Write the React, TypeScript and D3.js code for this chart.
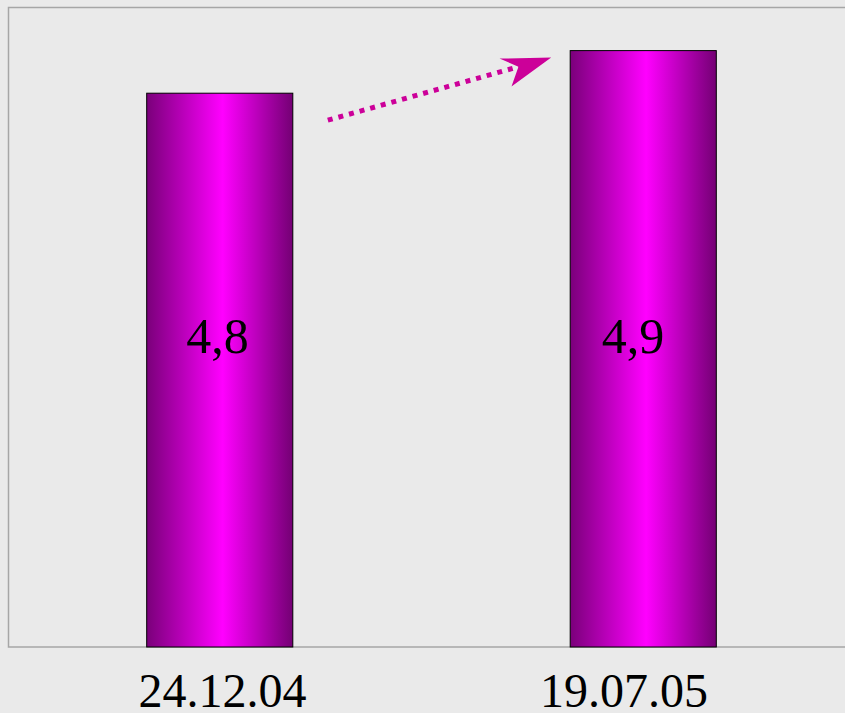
import { useEffect, useRef } from 'react'
import * as d3 from 'd3'

const categories = ['24.12.04', '19.07.05']
const values = [4.8, 4.9]
const valueLabels = ['4,8', '4,9']
const yDomain = [3.5, 5.0]

export default function App() {
  const svgRef = useRef<SVGSVGElement>(null)

  useEffect(() => {
    if (!svgRef.current) return
    document.body.style.margin = '0'

    const width = 845
    const height = 713
    const plot = { left: 8, top: 8, right: 855, bottom: 647 }
    const font = '"Liberation Serif", "Times New Roman", serif'

    const svg = d3.select(svgRef.current)
    svg.selectAll('*').remove()
    svg.attr('width', width).attr('height', height)

    svg.append('rect')
      .attr('width', width)
      .attr('height', height)
      .attr('fill', '#eaeaea')

    // Bar gradient: dark purple edges, bright magenta center
    const defs = svg.append('defs')
    const grad = defs.append('linearGradient')
      .attr('id', 'bar-gradient')
      .attr('x1', '0%').attr('y1', '0%')
      .attr('x2', '100%').attr('y2', '0%')
    grad.append('stop').attr('offset', '0%').attr('stop-color', '#7a007a')
    grad.append('stop').attr('offset', '52%').attr('stop-color', '#ff00ff')
    grad.append('stop').attr('offset', '100%').attr('stop-color', '#740074')

    // Plot frame
    svg.append('rect')
      .attr('x', plot.left + 0.5)
      .attr('y', plot.top - 0.5)
      .attr('width', plot.right - plot.left)
      .attr('height', plot.bottom - plot.top + 0.5)
      .attr('fill', '#eaeaea')
      .attr('stroke', '#a6a6a6')
      .attr('stroke-width', 1.5)

    const x = d3.scaleBand<string>()
      .domain(categories)
      .range([plot.left, plot.right])
    const barWidth = x.bandwidth() * 0.345

    // label positions in the original are not exactly on the bar centers
    const xCatLabel = d3.scalePoint<string>()
      .domain(categories)
      .range([21.75, 824.75])
      .padding(0.5)
    const xValLabel = d3.scalePoint<string>()
      .domain(categories)
      .range([9.75, 840.75])
      .padding(0.5)

    const y = d3.scaleLinear()
      .domain(yDomain)
      .range([plot.bottom, plot.top])

    const g = svg.append('g')

    categories.forEach((c, i) => {
      const cx = (x(c) ?? 0) + x.bandwidth() / 2
      g.append('rect')
        .attr('x', cx - barWidth / 2)
        .attr('y', y(values[i]))
        .attr('width', barWidth)
        .attr('height', y(yDomain[0]) - y(values[i]))
        .attr('fill', 'url(#bar-gradient)')
        .attr('stroke', '#000')
        .attr('stroke-width', 1)

      g.append('text')
        .attr('x', xValLabel(c) ?? cx)
        .attr('y', 353)
        .attr('text-anchor', 'middle')
        .attr('font-family', font)
        .attr('font-size', 50)
        .attr('fill', '#000')
        .text(valueLabels[i])

      g.append('text')
        .attr('x', xCatLabel(c) ?? cx)
        .attr('y', 707)
        .attr('text-anchor', 'middle')
        .attr('font-family', font)
        .attr('font-size', 48)
        .attr('fill', '#000')
        .text(c)
    })

    // Dotted trend arrow between the bars
    const c0 = (x(categories[0]) ?? 0) + x.bandwidth() / 2
    const c1 = (x(categories[1]) ?? 0) + x.bandwidth() / 2
    const start: [number, number] = [c0 + barWidth / 2 + 35, y(values[0]) + 27]
    const tip: [number, number] = [c1 - barWidth / 2 - 19, y(values[1]) + 7]
    const angle = Math.atan2(tip[1] - start[1], tip[0] - start[0])
    const headLen = 33
    const notch: [number, number] = [
      tip[0] - headLen * Math.cos(angle),
      tip[1] - headLen * Math.sin(angle),
    ]

    g.append('line')
      .attr('x1', start[0])
      .attr('y1', start[1])
      .attr('x2', notch[0])
      .attr('y2', notch[1])
      .attr('stroke', '#cc0099')
      .attr('stroke-width', 5)
      .attr('stroke-dasharray', '5,6')

    const arrowHead = d3.path()
    arrowHead.moveTo(0, 0)
    arrowHead.lineTo(-50, -13)
    arrowHead.lineTo(-34, 0)
    arrowHead.lineTo(-46, 17)
    arrowHead.closePath()

    g.append('path')
      .attr('d', arrowHead.toString())
      .attr('transform', `translate(${tip[0]},${tip[1]}) rotate(${(angle * 180) / Math.PI})`)
      .attr('fill', '#cc0099')
  }, [])

  return <svg ref={svgRef} style={{ display: 'block' }} />
}
